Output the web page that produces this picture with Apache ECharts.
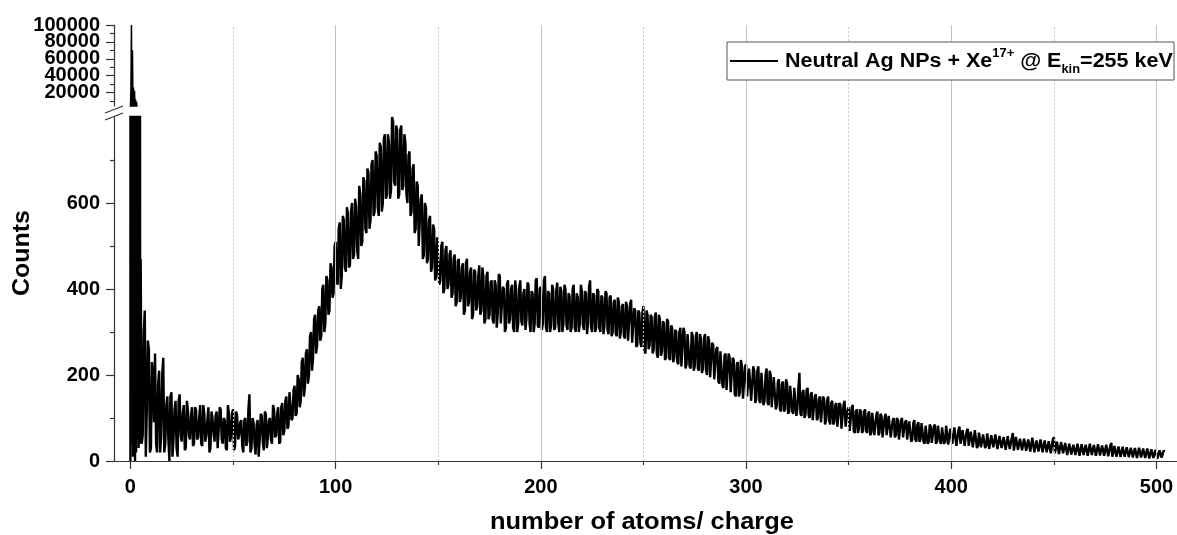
<!DOCTYPE html>
<html><head><meta charset="utf-8">
<script src="https://cdn.jsdelivr.net/npm/echarts@6/dist/echarts.min.js"></script>
<style>html,body{margin:0;padding:0;background:#fff}#c{width:1177px;height:535px}</style>
</head><body><div id="c"></div>
<script>
// ---- data ----
const spikeX = [0, 0.25, 0.5, 0.75, 1, 1.25, 1.5, 1.75, 2, 2.25, 2.5, 2.75, 3, 3.25, 3.5, 3.75, 4, 4.25, 4.5, 4.75];
const spikeCounts = [0, 24000, 100000, 40, 70000, 10, 26000, 30, 22000, 0, 12000, 20, 9000, 50, 2000, 470, 30, 480, 3000, 40];
const countsStartX = 5; // counts[i] is at x = 5 + i
const counts = [
470,60,350,120,260,30,200,250,20,210,
60,240,40,150,0,160,50,140,10,155,
45,130,30,120,50,125,40,118,55,130,
35,110,60,125,30,100,45,115,70,120,
40,95,25,110,55,120,35,105,60,95,
20,100,45,155,30,90,15,95,50,105,
25,110,55,100,40,120,60,125,45,135,
70,150,80,130,100,175,110,190,140,240,
170,260,200,300,240,340,270,360,290,410,
320,420,350,450,390,510,410,555,430,560,
440,575,455,600,480,590,470,620,510,650,
530,670,560,700,580,710,570,730,600,760,
620,740,630,790,640,770,620,780,640,740,
600,720,580,690,540,640,500,620,480,590,
470,570,450,540,430,520,420,510,400,500,
410,490,390,480,370,470,380,460,350,470,
370,450,340,440,360,455,350,430,330,440,
340,420,320,410,340,430,320,400,310,420,
330,410,300,395,320,420,315,400,330,410,
300,390,320,425,310,405,320,430,300,390,
315,400,310,415,300,395,320,400,305,385,
310,410,300,380,320,395,305,390,320,420,
300,385,310,395,300,380,315,390,295,385,
300,375,290,370,300,365,285,360,280,375,
275,350,270,345,265,360,250,340,270,335,
260,345,240,330,255,320,240,325,235,310,
240,300,225,310,220,300,225,295,215,290,
220,300,210,285,215,295,200,280,195,270,
190,265,180,255,170,250,165,240,160,235,
150,230,160,220,145,225,150,215,140,210,
145,220,135,205,140,215,130,200,125,195,
130,190,115,185,120,180,115,175,110,170,
120,205,105,165,110,170,100,160,95,155,
100,150,90,145,95,150,85,140,90,135,
80,130,75,140,80,125,70,130,65,120,
75,115,70,120,65,115,65,110,60,115,
65,105,55,110,60,105,55,100,60,95,
50,100,55,95,50,90,50,95,45,90,
50,85,40,85,45,80,40,85,45,80,
40,80,45,85,40,75,40,75,35,80,
40,70,35,75,35,70,30,70,35,65,
30,65,35,60,30,60,30,65,30,55,
28,60,25,55,30,65,25,55,28,50,
25,55,22,50,25,52,22,50,20,48,
22,45,18,50,20,55,18,48,15,45,
18,40,15,42,12,40,15,38,12,42,
15,40,12,38,15,40,12,38,14,40,
12,36,10,42,12,38,10,35,8,32,
10,35,8,30,10,32,6,30,8,28,
5,30,8,26,5,28,8,25,10,22
];
const countsHalfStartX = 5.5; // countsHalf[i] is at x = 5.5 + i
const countsHalf = [
40,300,10,280,20,230,90,40,180,20,
200,20,130,50,150,10,120,30,140,60,
110,25,140,60,105,35,125,50,100,40,
130,45,95,20,115,65,105,30,125,50,
100,30,130,45,110,25,115,50,90,35,
95,35,120,20,100,40,85,10,110,45,
115,30,95,50,130,55,110,40,125,60,
140,75,160,95,165,105,200,125,230,150,
250,180,290,210,330,250,350,280,400,300,
430,340,460,380,500,420,540,400,570,450,
590,450,580,470,610,490,640,500,660,540,
680,540,690,570,720,590,740,580,750,610,
760,610,800,650,780,610,770,630,760,620,
710,570,680,530,650,500,610,470,600,460,
560,440,550,420,520,410,500,390,490,400,
480,380,470,360,465,370,450,340,460,360,
440,330,445,350,430,340,450,320,430,330,
415,330,420,310,435,320,405,300,410,320,
400,310,420,300,405,325,390,305,415,320,
395,300,420,315,400,305,420,310,395,300,
410,305,395,320,405,300,410,315,390,300,
400,310,390,300,410,315,395,295,405,310,
390,300,400,310,385,295,395,305,380,290,
370,295,380,285,360,290,370,280,365,275,
355,265,350,275,345,255,350,260,340,250,
335,250,340,245,325,235,330,240,315,230,
305,230,300,220,310,215,295,220,300,210,
290,215,295,205,285,210,290,195,275,190,
260,185,255,175,245,165,250,160,240,155,
225,150,235,145,220,150,215,140,220,135,
210,140,205,130,200,135,210,125,195,120,
185,120,180,115,190,110,175,115,170,105,
170,110,160,100,165,105,155,95,150,95,
145,90,150,85,140,95,135,85,130,80,
135,75,130,80,120,70,125,70,115,65,
120,65,115,70,110,60,112,60,108,60,
110,55,100,60,105,55,95,55,100,50,
95,55,90,50,92,45,88,50,85,45,
88,45,82,40,85,42,80,40,82,45,
78,40,82,38,75,40,78,35,72,40,
72,35,70,35,68,32,72,30,66,32,
62,30,64,28,60,32,62,28,58,30,
56,26,58,28,54,24,56,26,52,25,
52,24,50,22,54,20,48,22,50,20,
48,20,46,18,50,18,45,16,44,18,
42,14,40,15,38,14,40,12,39,14,
38,12,40,14,37,12,39,13,36,12,
38,11,36,10,35,10,34,9,33,10,
32,9,31,8,30,7,31,8,29,7,
29,6,27,7,26,6,25,8,24
];
const xMajorTicks = [0, 100, 200, 300, 400, 500];
const xMinorTicks = [50, 150, 250, 350, 450];
const yLowerLabels = [0, 200, 400, 600];
const yLowerMinor = [100, 300, 500, 700];
const yUpperLabels = [20000, 40000, 60000, 80000, 100000];
const yUpperMinor = [10000, 30000, 50000, 70000, 90000];
const xTitle = 'number of atoms/ charge';
const yTitle = 'Counts';
const seriesName = 'Neutral Ag NPs + Xe17+ @ Ekin=255 keV';

// ---- chart ----
const FONT = 'Arial, "Liberation Sans", Helvetica, sans-serif';
const AX = '#333';
const seriesData = spikeX.map((x, i) => [x, spikeCounts[i]]);
counts.forEach((c, i) => {
  seriesData.push([countsStartX + i, c]);
  if (i < countsHalf.length) seriesData.push([countsHalfStartX + i, countsHalf[i]]);
});

const XMIN = -8, XMAX = 510;
const GL = 114, GW = 1065;

function hiddenX(g) {
  return { gridIndex: g, type: 'value', min: XMIN, max: XMAX, show: false };
}
function yMajor(g, min, max, vals, showLine) {
  return {
    gridIndex: g, type: 'value', min: min, max: max, position: 'left',
    axisLine: { show: showLine, onZero: false, lineStyle: { color: AX, width: 1.2 } },
    axisTick: { show: true, customValues: vals, length: 8, lineStyle: { color: AX, width: 1.2 } },
    axisLabel: { customValues: vals, fontSize: 20, fontWeight: 'bold', color: '#000', fontFamily: FONT, margin: 14,
      formatter: v => String(v), hideOverlap: false, showMinLabel: true, showMaxLabel: true },
    splitLine: { show: false }
  };
}
function yMinor(g, min, max, vals) {
  return {
    gridIndex: g, type: 'value', min: min, max: max, position: 'left',
    axisLine: { show: false, onZero: false },
    axisTick: { show: true, customValues: vals, length: 4, lineStyle: { color: AX, width: 1.2 } },
    axisLabel: { show: false },
    splitLine: { show: false }
  };
}

const gridLineData = xMajorTicks.filter(v => v > 0).map(v => ({ xAxis: v, lineStyle: { type: 'solid', color: '#c2c2c2', width: 1 } }))
  .concat(xMinorTicks.map(v => ({ xAxis: v, lineStyle: { type: [2, 2], color: '#c8c8c8', width: 1 } })));

const option = {
  animation: false,
  backgroundColor: '#fff',
  grid: [
    { left: GL, top: 117, width: GW, height: 344, containLabel: false },
    { left: GL, top: 25, width: GW, height: 81, containLabel: false },
    { left: GL, top: 25, width: GW, height: 436, containLabel: false }
  ],
  xAxis: [
    {
      gridIndex: 0, type: 'value', min: XMIN, max: XMAX, position: 'bottom',
      axisLine: { show: true, onZero: false, lineStyle: { color: AX, width: 1.2 } },
      axisTick: { show: true, customValues: xMajorTicks, length: 8, lineStyle: { color: AX, width: 1.2 } },
      axisLabel: { customValues: xMajorTicks, fontSize: 20, fontWeight: 'bold', color: '#000', fontFamily: FONT, margin: 16,
        formatter: v => String(v), hideOverlap: false },
      splitLine: { show: false }
    },
    {
      gridIndex: 0, type: 'value', min: XMIN, max: XMAX, position: 'bottom',
      axisLine: { show: false, onZero: false },
      axisTick: { show: true, customValues: xMinorTicks, length: 4, lineStyle: { color: AX, width: 1.2 } },
      axisLabel: { show: false },
      splitLine: { show: false }
    },
    hiddenX(1),
    hiddenX(2)
  ],
  yAxis: [
    yMajor(0, 0, 800, yLowerLabels, true),
    yMinor(0, 0, 800, yLowerMinor),
    yMajor(1, 4000, 100000, yUpperLabels.filter((v, i) => i % 2 === 0), true),
    yMajor(1, 4000, 100000, yUpperLabels.filter((v, i) => i % 2 === 1), false),
    yMinor(1, 4000, 100000, yUpperMinor),
    { gridIndex: 2, type: 'value', min: 0, max: 1, show: false }
  ],
  series: [
    {
      type: 'line', xAxisIndex: 3, yAxisIndex: 5, data: [], z: 1, silent: true,
      markLine: { silent: true, symbol: ['none', 'none'], label: { show: false }, animation: false, data: gridLineData }
    },
    {
      name: seriesName, type: 'line', xAxisIndex: 0, yAxisIndex: 0, data: seriesData,
      showSymbol: false, symbol: 'none', clip: true, z: 3,
      lineStyle: { color: '#000', width: 2.4 }
    },
    {
      name: seriesName, type: 'line', xAxisIndex: 2, yAxisIndex: 2, data: seriesData,
      showSymbol: false, symbol: 'none', clip: true, z: 3,
      lineStyle: { color: '#000', width: 1.5 }
    }
  ],
  graphic: [
    // axis break marks
    { type: 'line', z: 100, shape: { x1: 105, y1: 113, x2: 123, y2: 106 }, style: { stroke: AX, lineWidth: 1.2 } },
    { type: 'line', z: 100, shape: { x1: 105, y1: 120, x2: 123, y2: 113 }, style: { stroke: AX, lineWidth: 1.2 } },
    // axis titles
    { type: 'text', z: 100, x: 22, y: 253, rotation: Math.PI / 2, scaleX: 1.04,
      style: { text: yTitle, font: 'bold 24px ' + FONT, fill: '#000', align: 'center', verticalAlign: 'middle' } },
    { type: 'text', z: 100, x: 642, y: 522, scaleX: 1.06,
      style: { text: xTitle, font: 'bold 24px ' + FONT, fill: '#000', align: 'center', verticalAlign: 'middle' } },
    // legend box
    { type: 'rect', z: 100, shape: { x: 727, y: 42, width: 447, height: 38 }, style: { fill: '#fff', stroke: '#555', lineWidth: 1 } },
    { type: 'line', z: 101, shape: { x1: 730, y1: 61, x2: 778, y2: 61 }, style: { stroke: '#000', lineWidth: 2 } },
    { type: 'text', z: 101, x: 785, y: 61, scaleX: 1.075,
      style: {
        text: '{a|Neutral Ag NPs + Xe}{sup|17+}{a| @ E}{sub|kin}{a|=255 keV}',
        verticalAlign: 'middle', align: 'left',
        rich: {
          a: { fontFamily: FONT, fontWeight: 'bold', fontSize: 20, lineHeight: 30, color: '#000', verticalAlign: 'middle' },
          sup: { fontFamily: FONT, fontWeight: 'bold', fontSize: 12, lineHeight: 14, color: '#000', verticalAlign: 'top', padding: [2, 0, 0, 0] },
          sub: { fontFamily: FONT, fontWeight: 'bold', fontSize: 12, lineHeight: 14, color: '#000', verticalAlign: 'bottom' }
        }
      } }
  ]
};

const chart = echarts.init(document.getElementById('c'), null, { renderer: 'canvas' });
chart.setOption(option);
</script>
</body></html>
